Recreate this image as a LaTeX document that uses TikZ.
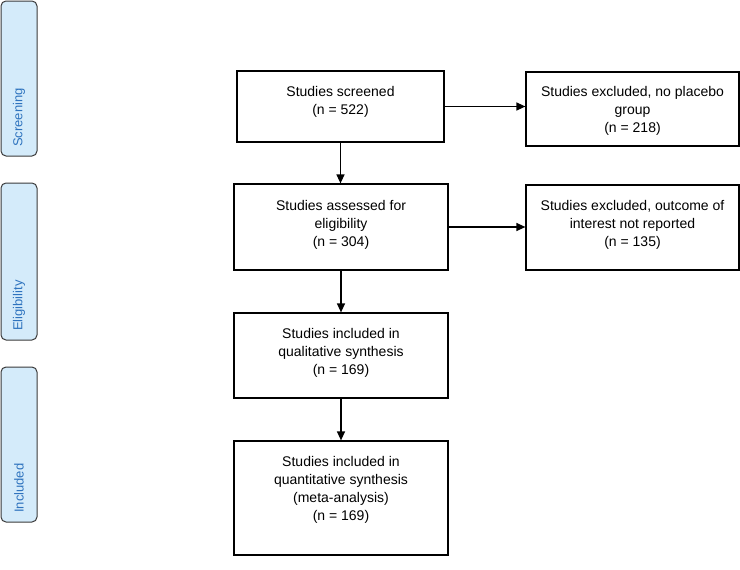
\documentclass[tikz,border=0pt]{standalone}
\usepackage{fontspec}
\setmainfont{Liberation Sans}
\usetikzlibrary{arrows.meta}
\definecolor{stagefill}{HTML}{D4EBFA}
\definecolor{stageink}{HTML}{2E73BE}
\definecolor{stageline}{HTML}{3A3A3A}

\begin{document}
\begin{tikzpicture}[x=1pt,y=-1pt,
    flowbox/.style={draw, line width=1.2pt, align=center, inner sep=0pt,
        font=\fontsize{14}{18}\selectfont},
    stagebar/.style={draw=stageline, fill=stagefill, rounded corners=5pt,
        line width=1pt, minimum width=36pt, inner sep=0pt},
    stagelabel/.style={rotate=90, anchor=west, text=stageink, inner sep=0pt,
        font=\fontsize{13}{15}\selectfont},
    flowarrow/.style={-{Triangle[length=9pt,width=8pt]}, line width=1.2pt}]
        \useasboundingbox (0,0) rectangle (740,570);
        % stage bars on the left
        \node[stagebar, minimum height=155pt] (screening) at (19,78.5) {};
        \node[stagebar, minimum height=157pt] (eligibility) at (19,261.5) {};
        \node[stagebar, minimum height=155pt] (included) at (19,444.5) {};
        \node[stagelabel] (screeningtxt) at (19,147) {Screening};
        \node[stagelabel] (eligibilitytxt) at (19,331) {Eligibility};
        \node[stagelabel] (includedtxt) at (19,513) {Included};
        % main column
        \node[flowbox, minimum width=207pt, minimum height=71pt, text depth=12pt] (screened) at (340.5,106.5) {Studies screened\\(n = 522)};
        \node[flowbox, minimum width=214pt, minimum height=86pt, text depth=8pt] (assessed) at (341,227) {Studies assessed for\\eligibility\\(n = 304)};
        \node[flowbox, minimum width=214pt, minimum height=85pt, text depth=9pt] (qualitative) at (341,355.5) {Studies included in\\qualitative synthesis\\(n = 169)};
        \node[flowbox, minimum width=214pt, minimum height=114pt, text depth=19pt] (quantitative) at (341,498) {Studies included in\\quantitative synthesis\\(meta-analysis)\\(n = 169)};
        % excluded column
        \node[flowbox, minimum width=213pt, minimum height=74pt, text depth=0pt] (noplacebo) at (632.5,109) {Studies excluded, no placebo\\group\\(n = 218)};
        \node[flowbox, minimum width=213pt, minimum height=85pt, text depth=8pt] (notreported) at (632.5,227.5) {Studies excluded, outcome of\\interest not reported\\(n = 135)};
        % arrows
        \draw[flowarrow] (screened.south) -- (screened.south |- assessed.north);
        \draw[flowarrow] (assessed) -- (qualitative);
        \draw[flowarrow] (qualitative) -- (quantitative);
        \draw[flowarrow] (screened.east) -- (screened.east -| noplacebo.west);
        \draw[flowarrow] (assessed.east) -- (assessed.east -| notreported.west);
\end{tikzpicture}
\end{document}
